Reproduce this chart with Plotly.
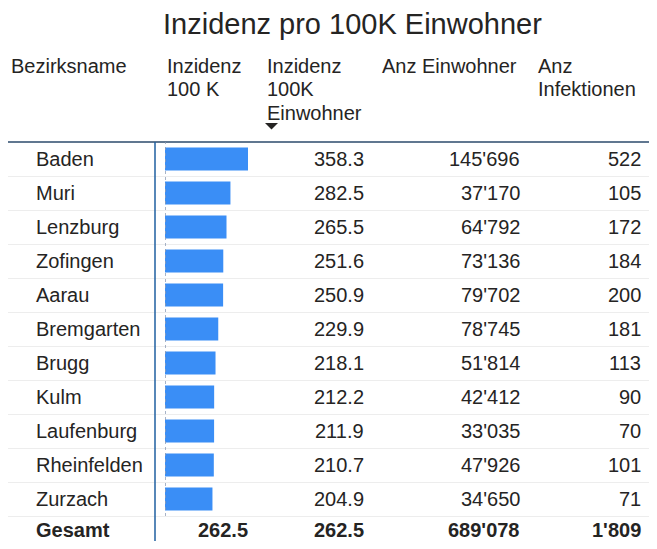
# Tabelle: Inzidenz pro 100K Einwohner (Bezirke Aargau)
import plotly.graph_objects as go

bezirke = ['Baden', 'Muri', 'Lenzburg', 'Zofingen', 'Aarau', 'Bremgarten',
           'Brugg', 'Kulm', 'Laufenburg', 'Rheinfelden', 'Zurzach']
inzidenz = [358.3, 282.5, 265.5, 251.6, 250.9, 229.9, 218.1, 212.2, 211.9, 210.7, 204.9]
einwohner = ["145'696", "37'170", "64'792", "73'136", "79'702", "78'745",
             "51'814", "42'412", "33'035", "47'926", "34'650"]
infektionen = [522, 105, 172, 184, 200, 181, 113, 90, 70, 101, 71]
gesamt = ['Gesamt', '262.5', '262.5', "689'078", "1'809"]

# Seite hat 8px Rand -> Figur kleiner machen und alles um 8px verschieben
OFF = 8
W, H = 657 - 2 * OFF, 549 - 2 * OFF
TOP = 142           # Unterkante Kopfzeile (px im Referenzbild)
ROW = 34            # Zeilenhöhe
FONT = 'Arial, Liberation Sans, sans-serif'
TXT = '#252423'
BLAU = '#3A8EF6'

zeilen = bezirke + [gesamt[0]]

def px(x):
    return (x - OFF) / W

def py(y):
    return 1 - (y - OFF) / H

fig = go.Figure()

# Balken (eigene x-Achse)
fig.add_trace(go.Bar(x=inzidenz, y=bezirke, orientation='h', xaxis='x2', yaxis='y',
                     marker=dict(color=BLAU, line=dict(width=0)), width=0.68,
                     hoverinfo='skip', showlegend=False))

# Textzellen (über die Achsen positioniert)
zellen = []

def spalte(werte, x, anker='right', zeilen_=bezirke, bold=False, ys=0):
    for w, z in zip(werte, zeilen_):
        zellen.append(dict(text=f'<b>{w}</b>' if bold else str(w), x=x, y=z,
                           xref='x', yref='y', xanchor=anker, yanchor='middle',
                           borderpad=0, borderwidth=0, showarrow=False, yshift=ys,
                           font=dict(family=FONT, size=20, color=TXT)))

spalte(bezirke, 36, 'left')
spalte([f'{v:.1f}' for v in inzidenz], 364)
spalte(einwohner, 520)
spalte(infektionen, 641)
# Gesamt-Zeile (etwas angehoben, damit sie nicht am Rand abgeschnitten wird)
spalte([gesamt[0]], 36, 'left', ['Gesamt'], True, 3)
for wert, x in zip(gesamt[1:], [248, 364, 520, 641]):
    spalte([wert], x, 'right', ['Gesamt'], True, 3)

# Titel und Kopfzeile
ann = [dict(text='Inzidenz pro 100K Einwohner', x=352, y=24, size=29, xanchor='center')]
koepfe = [(['Bezirksname'], 9), (['Inzidenz', '100 K'], 165),
          (['Inzidenz', '100K', 'Einwohner'], 265), (['Anz Einwohner'], 380),
          (['Anz', 'Infektionen'], 536)]
for zeilen_kopf, x in koepfe:
    for i, t in enumerate(zeilen_kopf):
        ann.append(dict(text=t, x=x, y=66 + 23.5 * i, size=20, xanchor='left'))

# Sortierpfeil als flaches Dreieck
tri = [(265, 123), (278, 123), (271.5, 129.5)]
pfad = 'M ' + ' L '.join(f'{px(a):.4f},{py(b):.4f}' for a, b in tri) + ' Z'

kopf_ann = [dict(text=a['text'], x=px(a['x']), y=py(a['y']), xref='paper', yref='paper',
                 xanchor=a['xanchor'], yanchor='middle', showarrow=False,
                 font=dict(family=FONT, size=a['size'], color=TXT))
            for a in ann]

fig.update_layout(
    width=W, height=H, margin=dict(l=0, r=0, t=0, b=0),
    paper_bgcolor='white', plot_bgcolor='rgba(0,0,0,0)',
    annotations=kopf_ann + zellen,
    xaxis=dict(domain=[0, 1], range=[OFF, OFF + W], visible=False, fixedrange=True),
    xaxis2=dict(domain=[px(165), px(255)], range=[0, 90 * 358.3 / 83], visible=False,
                anchor='y', fixedrange=True),
    yaxis=dict(domain=[0, py(TOP)], type='category', categoryorder='array',
               categoryarray=zeilen, range=[(OFF + H - TOP) / ROW - 0.5, -0.5],
               tickson='boundaries', showgrid=True, gridcolor='#EDEDED', gridwidth=1,
               showticklabels=False, ticks='', zeroline=False, fixedrange=True),
    shapes=[
        dict(type='line', xref='paper', yref='paper', x0=0, x1=px(650),
             y0=py(TOP), y1=py(TOP), line=dict(color='#2B4A6B', width=1.5)),
        dict(type='line', xref='paper', yref='paper', x0=px(155), x1=px(155),
             y0=0, y1=py(TOP), line=dict(color='#1F5FA0', width=1.5)),
        dict(type='line', xref='x2', yref='paper', x0=0, x1=0,
             y0=py(TOP + ROW * 11), y1=py(TOP), line=dict(color='#8A9BB5', width=1.5, dash='dot')),
        dict(type='path', xref='paper', yref='paper', path=pfad,
             fillcolor=TXT, line=dict(width=0)),
    ],
)

fig.write_html('out.html')
